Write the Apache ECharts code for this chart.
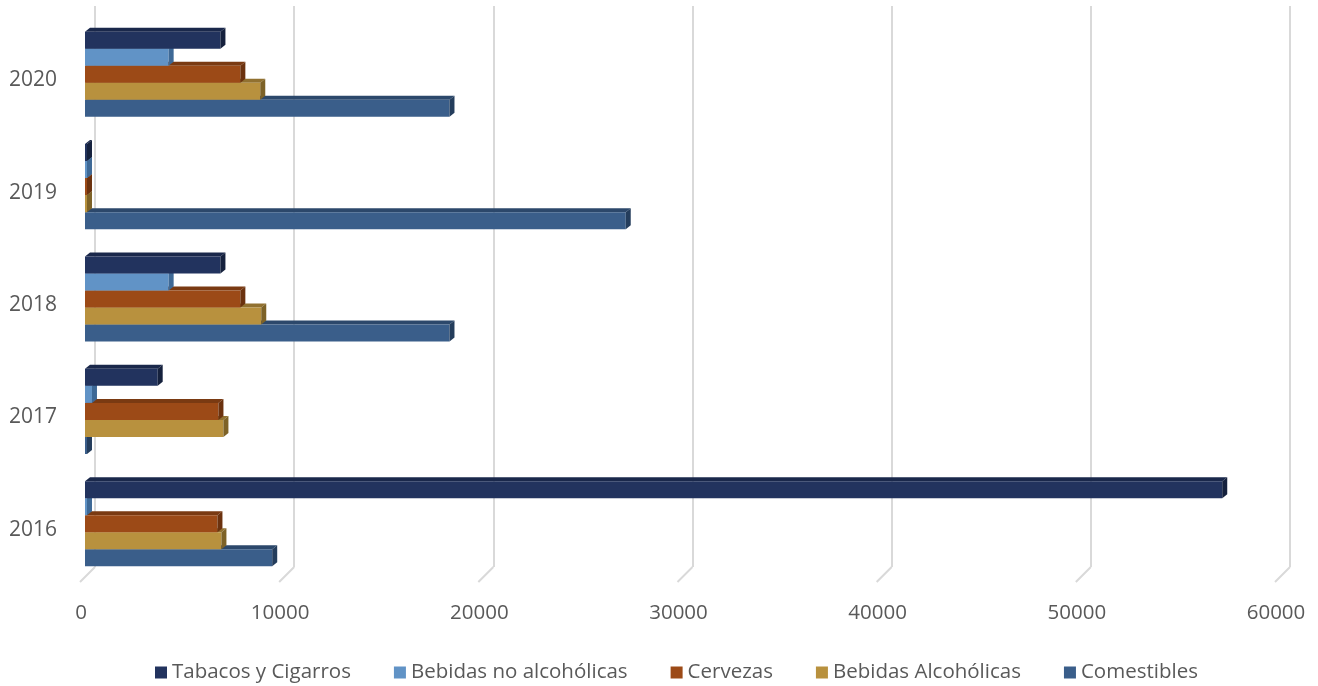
<!DOCTYPE html>
<html>
<head>
<meta charset="utf-8">
<script src="https://cdn.jsdelivr.net/npm/echarts@6/dist/echarts.min.js"></script>
<style>
html,body{margin:0;padding:0;background:#fff;}
#chart{width:1318px;height:686px;}
</style>
</head>
<body>
<div id="chart"></div>
<script>
const years = ['2016', '2017', '2018', '2019', '2020'];
const tabacos = [57100, 3650, 6800, 100, 6800];
const bebidasNoAlc = [100, 350, 4200, 100, 4200];
const cervezas = [6650, 6700, 7800, 100, 7800];
const bebidasAlc = [6850, 6950, 8850, 100, 8800];
const comestibles = [9400, 100, 18300, 27150, 18300];
const xTicks = [0, 10000, 20000, 30000, 40000, 50000, 60000];

const seriesDefs = [
  {name: 'Tabacos y Cigarros', data: tabacos, front: '#22335e', top: '#1a284b', side: '#15213d'},
  {name: 'Bebidas no alcohólicas', data: bebidasNoAlc, front: '#6193c6', top: '#4b79a8', side: '#3e6996'},
  {name: 'Cervezas', data: cervezas, front: '#9c4a17', top: '#7a3a12', side: '#6b320f'},
  {name: 'Bebidas Alcohólicas', data: bebidasAlc, front: '#b8913e', top: '#917130', side: '#7d6227'},
  {name: 'Comestibles', data: comestibles, front: '#3a5e8a', top: '#2c486b', side: '#243d5c'}
];
const nBars = seriesDefs.length;
const groupFrac = 0.757;
const dx = 5, dy = 4;

function makeBarSeries(def, k) {
  return {
    name: def.name,
    type: 'custom',
    xAxisIndex: 0,
    yAxisIndex: 0,
    itemStyle: {color: def.front},
    encode: {x: 0, y: 1},
    data: def.data.map((v, i) => [v, i]),
    z: 10 - k,
    renderItem: function (params, api) {
      const v = api.value(0), ci = api.value(1);
      const base = api.coord([0, ci]);
      const end = api.coord([v, ci]);
      const band = api.size([0, 1])[1];
      const groupH = band * groupFrac;
      const barH = groupH / nBars;
      const yTop = base[1] - groupH / 2 + k * barH;
      const yBot = yTop + barH;
      const x0 = base[0];
      const x1 = Math.max(end[0], x0 + 0.5);
      return {
        type: 'group',
        children: [
          {type: 'polygon', shape: {points: [[x0, yTop], [x1, yTop], [x1 + dx, yTop - dy], [x0 + dx, yTop - dy]]}, style: {fill: def.top}},
          {type: 'rect', shape: {x: x0, y: yTop, width: x1 - x0, height: barH}, style: {fill: def.front}},
          {type: 'polygon', shape: {points: [[x1, yTop], [x1 + dx, yTop - dy], [x1 + dx, yBot - dy], [x1, yBot]]}, style: {fill: def.side}}
        ]
      };
    }
  };
}

const barSeries = seriesDefs.map((d, k) => makeBarSeries(d, k)).reverse();

const floorSeries = {
  type: 'custom',
  xAxisIndex: 1,
  yAxisIndex: 1,
  silent: true,
  z: 1,
  data: xTicks.map(v => [v, 0]),
  encode: {x: 0, y: 1},
  renderItem: function (params, api) {
    const p = api.coord([api.value(0), 0]);
    return {
      type: 'line',
      shape: {x1: p[0], y1: p[1], x2: p[0] - 15, y2: p[1] + 15},
      style: {stroke: '#d9d9d9', lineWidth: 2}
    };
  }
};

const chart = echarts.init(document.getElementById('chart'));
chart.setOption({
  backgroundColor: '#ffffff',
  animation: false,
  textStyle: {fontFamily: 'Open Sans', color: '#595959'},
  grid: [
    {left: 85, right: 38, top: 18, bottom: 106},
    {left: 95, right: 28, top: 6, bottom: 119},
    {left: 85, right: 38, top: 24, bottom: 100}
  ],
  xAxis: [
    {
      type: 'value', gridIndex: 0, min: 0, max: 60000, interval: 10000,
      axisLine: {show: false}, axisTick: {show: false}, splitLine: {show: false},
      axisLabel: {fontSize: 20.5, color: '#595959', margin: 23, padding: [0, 8, 0, 0], fontFamily: 'Open Sans',
        formatter: v => String(v)}
    },
    {
      type: 'value', gridIndex: 1, min: 0, max: 60000, interval: 10000,
      axisLine: {show: false}, axisTick: {show: false}, axisLabel: {show: false},
      splitLine: {show: true, lineStyle: {color: '#d9d9d9', width: 2}}
    },
    {
      type: 'value', gridIndex: 2, min: 0, max: 60000, show: false
    }
  ],
  yAxis: [
    {
      type: 'category', gridIndex: 0, data: years,
      axisLine: {show: false}, axisTick: {show: false}, splitLine: {show: false},
      axisLabel: {show: false}
    },
    {
      type: 'value', gridIndex: 1, min: 0, max: 1, show: false
    },
    {
      type: 'category', gridIndex: 2, data: years,
      axisLine: {show: false}, axisTick: {show: false}, splitLine: {show: false},
      axisLabel: {fontSize: 21, color: '#595959', margin: 28, fontFamily: 'Open Sans'}
    }
  ],
  legend: {
    data: seriesDefs.map(d => d.name),
    left: 150,
    top: 657,
    itemWidth: 12,
    itemHeight: 12,
    itemGap: 43,
    icon: 'rect',
    textStyle: {fontSize: 20.5, color: '#595959', fontFamily: 'Open Sans'}
  },
  series: [floorSeries].concat(barSeries)
});
</script>
</body>
</html>
